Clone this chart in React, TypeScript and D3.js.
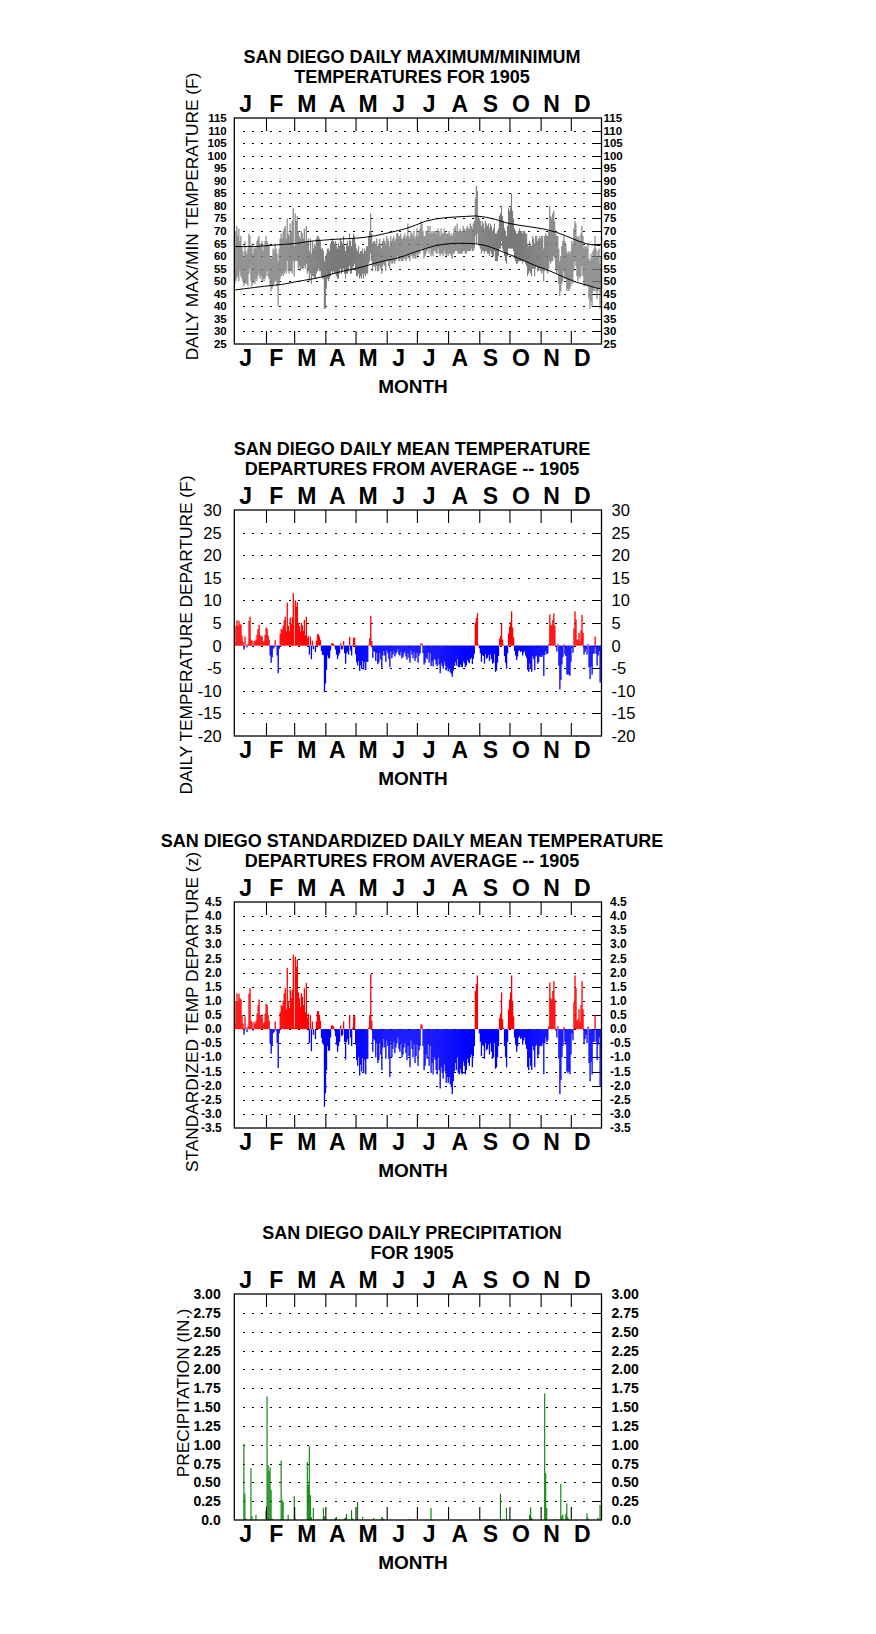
import React from 'react';
import * as d3 from 'd3';

// ---------- DATA ----------
const MONTH_LETTERS = ['J', 'F', 'M', 'A', 'M', 'J', 'J', 'A', 'S', 'O', 'N', 'D'];
const MONTH_START_DOY = [1, 32, 60, 91, 121, 152, 182, 213, 244, 274, 305, 335];

const TEMP_TICKS = [115, 110, 105, 100, 95, 90, 85, 80, 75, 70, 65, 60, 55, 50, 45, 40, 35, 30, 25];
const TEMP_LABELS = ['115', '110', '105', '100', '95', '90', '85', '80', '75', '70', '65', '60', '55', '50', '45', '40', '35', '30', '25'];
const DEP_TICKS = [30, 25, 20, 15, 10, 5, 0, -5, -10, -15, -20];
const DEP_LABELS = ['30', '25', '20', '15', '10', '5', '0', '-5', '-10', '-15', '-20'];
const Z_TICKS = [4.5, 4.0, 3.5, 3.0, 2.5, 2.0, 1.5, 1.0, 0.5, 0.0, -0.5, -1.0, -1.5, -2.0, -2.5, -3.0, -3.5];
const Z_LABELS = ['4.5', '4.0', '3.5', '3.0', '2.5', '2.0', '1.5', '1.0', '0.5', '0.0', '-0.5', '-1.0', '-1.5', '-2.0', '-2.5', '-3.0', '-3.5'];
const PRECIP_TICKS = [3.0, 2.75, 2.5, 2.25, 2.0, 1.75, 1.5, 1.25, 1.0, 0.75, 0.5, 0.25, 0.0];
const PRECIP_LABELS = ['3.00', '2.75', '2.50', '2.25', '2.00', '1.75', '1.50', '1.25', '1.00', '0.75', '0.50', '0.25', '0.0'];

// normal max / min curves (day index, value)
const NORMAL_DAY = [0, 10, 20, 30, 40, 50, 60, 70, 80, 90, 100, 110, 120, 130, 140, 150, 160, 170, 180, 190, 200, 210, 220, 230, 240, 250, 260, 270, 280, 290, 300, 310, 320, 330, 340, 350, 360, 364];
const NORMAL_MAX = [63.8, 63.8, 63.8, 64.1, 64.4, 64.7, 65.0, 65.6, 66.1, 66.4, 66.7, 66.9, 67.1, 67.5, 68.1, 69.0, 69.9, 70.9, 72.3, 73.9, 74.8, 75.3, 75.6, 75.8, 76.0, 75.5, 74.6, 73.3, 72.5, 71.9, 71.3, 70.6, 69.5, 68.0, 66.3, 64.9, 64.3, 64.2];
const NORMAL_MIN = [46.5, 47.0, 47.5, 48.0, 48.4, 48.9, 49.7, 50.4, 51.1, 52.0, 53.2, 54.2, 55.0, 56.0, 57.2, 58.2, 59.0, 60.2, 61.7, 63.0, 64.2, 64.8, 65.1, 65.1, 64.9, 64.2, 62.8, 61.2, 59.6, 57.8, 56.1, 54.7, 53.0, 51.2, 49.6, 48.5, 47.3, 47.0];

// daily max temperatures 1905
const TMAX = [
  63, 70, 72, 68, 71, 66, 68, 64, 62, 60, 66, 62, 61, 63, 69, 68, 63, 65, 61, 63, 64, 63, 66, 67, 68, 65, 64, 66, 62, 64, 66,
  68, 66, 65, 64, 60, 59, 60, 63, 62, 65, 63, 61, 58, 63, 67, 69, 67, 70, 71, 72, 67, 75, 69, 68, 73, 70, 74, 79,
  64, 77, 74, 76, 70, 68, 67, 70, 69, 67, 71, 66, 72, 66, 67, 62, 67, 61, 66, 63, 65, 64, 67, 68, 68, 67, 66, 63, 63, 62, 58,
  60, 61, 63, 63, 62, 65, 66, 67, 66, 65, 66, 64, 63, 65, 64, 67, 66, 65, 68, 64, 62, 65, 66, 64, 69, 66, 64, 67, 69, 68,
  65, 63, 62, 64, 61, 62, 62, 63, 61, 63, 62, 64, 64, 68, 70, 77, 69, 65, 66, 66, 65, 67, 64, 65, 67, 65, 63, 66, 67, 66, 65,
  68, 67, 66, 64, 68, 66, 67, 68, 66, 67, 69, 69, 68, 68, 69, 67, 67, 68, 69, 67, 68, 73, 68, 67, 70, 69, 68, 70, 67, 68,
  71, 68, 70, 71, 74, 73, 70, 68, 68, 70, 70, 72, 69, 72, 69, 70, 69, 70, 70, 69, 70, 71, 70, 68, 71, 69, 69, 71, 70, 69, 69,
  69, 70, 68, 69, 68, 69, 71, 72, 70, 73, 70, 70, 71, 70, 70, 72, 71, 70, 71, 72, 71, 71, 73, 72, 71, 73, 74, 83, 88, 86, 76,
  75, 74, 72, 74, 73, 71, 74, 73, 72, 73, 71, 73, 72, 70, 71, 73, 69, 69, 70, 71, 76, 77, 80, 76, 74, 71, 70, 68, 72, 79,
  78, 80, 85, 78, 75, 71, 70, 69, 69, 70, 71, 70, 70, 69, 70, 70, 69, 69, 65, 64, 66, 65, 64, 68, 67, 65, 68, 68, 66, 67, 68,
  67, 68, 68, 63, 68, 69, 68, 68, 70, 80, 76, 75, 77, 78, 74, 69, 68, 68, 63, 58, 60, 64, 66, 68, 66, 65, 62, 61, 62, 61,
  62, 66, 65, 71, 74, 73, 68, 67, 68, 66, 69, 72, 68, 63, 64, 64, 63, 65, 59, 58, 61, 59, 62, 63, 68, 63, 60, 62, 63, 57, 60,
];
// daily min temperatures 1905
const TMIN = [
  49, 50, 51, 52, 50, 54, 52, 51, 50, 48, 49, 49, 49, 48, 53, 55, 50, 48, 49, 50, 49, 51, 50, 52, 53, 51, 52, 50, 51, 50, 51,
  52, 54, 52, 51, 48, 46, 47, 48, 49, 50, 50, 48, 40, 49, 51, 52, 53, 52, 53, 54, 53, 58, 54, 53, 54, 54, 53, 58,
  52, 58, 58, 58, 55, 56, 54, 55, 55, 55, 56, 55, 57, 53, 54, 50, 53, 49, 52, 52, 51, 51, 53, 54, 55, 54, 54, 52, 51, 51, 39,
  39, 47, 51, 50, 51, 52, 54, 53, 54, 53, 53, 52, 51, 51, 53, 55, 53, 54, 55, 53, 51, 53, 53, 54, 56, 53, 53, 55, 56, 57,
  54, 52, 52, 53, 51, 52, 51, 53, 51, 53, 52, 53, 53, 57, 58, 61, 58, 54, 56, 56, 54, 56, 54, 54, 56, 55, 53, 56, 57, 56, 54,
  58, 58, 56, 55, 58, 57, 57, 58, 57, 58, 59, 60, 58, 58, 59, 58, 58, 59, 59, 58, 59, 60, 59, 58, 61, 60, 59, 60, 59, 59,
  61, 60, 61, 61, 63, 63, 62, 59, 60, 61, 62, 63, 61, 63, 60, 61, 60, 62, 62, 61, 61, 63, 61, 60, 61, 61, 60, 62, 61, 60, 61,
  60, 61, 61, 60, 59, 61, 61, 62, 62, 62, 61, 61, 61, 61, 61, 62, 62, 61, 61, 62, 62, 62, 62, 63, 62, 62, 63, 68, 65, 69, 65,
  64, 63, 61, 62, 62, 61, 62, 62, 61, 61, 60, 62, 61, 60, 60, 62, 58, 58, 58, 60, 63, 63, 66, 63, 62, 60, 58, 57, 60, 63,
  63, 63, 63, 63, 62, 59, 58, 57, 57, 58, 58, 58, 58, 57, 58, 58, 57, 56, 52, 53, 54, 53, 52, 55, 55, 52, 55, 56, 54, 54, 55,
  54, 53, 54, 50, 54, 55, 54, 53, 55, 58, 57, 58, 58, 60, 59, 55, 53, 54, 49, 44, 46, 49, 50, 54, 51, 51, 46, 47, 46, 47,
  48, 50, 49, 54, 58, 56, 52, 50, 52, 51, 52, 56, 52, 48, 48, 49, 48, 48, 43, 39, 42, 40, 46, 46, 48, 46, 43, 46, 47, 39, 44,
];

// daily mean temperature departures (F)
const DEP = [
  0.9, 4.4, 5.6, 4.4, 5.5, 4.8, 4.6, 2.2, 0.9, -0.9, 2.0, 0.2, -0.4, 0.4, 5.5, 6.4, 1.3, 1.1, -0.2, 1.1, 0.9, 1.3, 2.4, 3.7, 4.6, 2.2, 2.2, 2.0, 0.9, 1.1, 2.4,
  4.0, 3.7, 2.2, 1.3, -2.2, -3.8, -2.6, -0.7, -0.4, 1.2, -0.2, -2.2, -6.1, -0.7, 2.6, 3.7, 3.5, 4.4, 5.6, 6.4, 3.1, 9.5, 4.4, 3.3, 6.2, 4.8, 6.2, 11.6,
  0.2, 10.0, 8.6, 9.6, 5.1, 4.3, 3.1, 5.0, 4.5, 3.3, 5.7, 2.3, 6.4, 1.6, 2.1, -2.0, 2.0, -3.0, 1.1, -0.8, 0.0, -1.4, 1.1, 2.5, 2.5, 2.0, 1.2, -1.2, -2.0, -2.1, -10.3,
  -8.4, -5.4, -2.2, -2.8, -2.8, -1.1, 0.5, 0.5, 0.4, -0.2, -0.9, -2.0, -3.0, -2.2, -1.7, 0.5, -0.9, -0.7, 1.0, -1.7, -4.0, -1.7, -1.3, -2.0, 1.9, -1.1, -2.2, 0.2, 1.7, 1.8,
  -1.9, -3.7, -4.4, -3.4, -5.6, -4.3, -5.1, -3.4, -5.3, -3.7, -5.4, -3.6, -3.6, 0.2, 1.7, 6.6, 1.0, -2.7, -1.2, -1.4, -3.4, -1.7, -4.1, -3.7, -1.7, -3.1, -4.9, -2.2, -1.2, -2.2, -3.6,
  -1.1, -1.7, -2.9, -4.8, -1.3, -2.8, -2.0, -1.3, -2.4, -1.8, -1.4, -0.8, -2.0, -2.2, -1.4, -2.8, -2.5, -1.8, -1.4, -2.4, -3.1, -1.7, -2.7, -3.8, -1.1, -2.0, -2.8, -1.5, -3.4, -2.7,
  -1.6, -3.8, -2.2, -1.7, 0.5, 0.4, -1.7, -4.2, -3.8, -2.6, -3.0, -1.5, -3.8, -1.7, -4.5, -3.5, -4.6, -2.9, -3.2, -4.2, -4.6, -2.9, -4.2, -6.1, -3.9, -4.5, -5.1, -3.6, -4.4, -5.5, -4.9,
  -5.7, -5.1, -5.9, -6.2, -6.9, -5.6, -4.5, -3.6, -4.4, -3.0, -4.7, -4.8, -4.2, -4.7, -4.8, -3.5, -3.9, -4.8, -4.4, -3.2, -3.6, -3.9, -3.0, -2.7, -4.1, -2.9, -1.8, 5.1, 6.1, 7.2, 0.2,
  -0.6, -1.7, -3.6, -2.1, -2.3, -4.0, -1.9, -2.9, -2.7, -2.1, -3.4, -1.9, -3.0, -4.0, -3.8, -1.9, -5.8, -5.5, -3.8, -2.3, 1.5, 2.1, 4.9, 1.3, 0.2, -2.3, -3.8, -5.1, -1.7, 2.7,
  4.2, 5.2, 7.6, 4.0, 1.8, -1.2, -2.2, -3.2, -2.4, -1.2, -1.0, -1.4, -1.2, -2.2, -1.6, -1.2, -2.2, -2.8, -5.4, -5.8, -4.0, -5.2, -5.8, -2.4, -3.0, -5.4, -2.4, -2.2, -4.0, -3.6, -2.4,
  -2.5, -2.5, -2.1, -6.7, -2.1, -1.3, -1.9, -1.7, 0.4, 6.9, 4.6, 4.4, 5.7, 7.1, 4.4, -0.2, -1.3, 0.4, -4.4, -9.7, -7.6, -4.2, -2.5, 0.3, -1.9, -2.3, -6.3, -6.5, -6.3, -6.7,
  -3.6, -0.6, -1.6, 3.8, 7.6, 5.8, 1.2, 1.4, 2.8, 1.0, 3.4, 6.8, 2.8, -2.0, -1.4, -0.8, -2.0, 0.4, -4.8, -7.4, -4.6, -6.4, -1.8, -1.8, 2.0, -1.8, -4.4, -2.2, -1.2, -8.2, -4.0,
];

// standardized departures (z)
const ZDEP = [
  0.2, 1.0, 1.27, 1.0, 1.25, 1.1, 1.05, 0.5, 0.2, -0.2, 0.45, 0.05, -0.1, 0.1, 1.25, 1.45, 0.3, 0.25, -0.05, 0.25, 0.2, 0.3, 0.55, 0.85, 1.05, 0.5, 0.5, 0.45, 0.2, 0.25, 0.55,
  0.9, 0.85, 0.5, 0.3, -0.5, -0.87, -0.6, -0.15, -0.1, 0.27, -0.05, -0.5, -1.38, -0.15, 0.6, 0.85, 0.8, 1.0, 1.27, 1.45, 0.7, 2.17, 1.0, 0.75, 1.4, 1.1, 1.4, 2.64,
  0.05, 2.56, 2.2, 2.46, 1.3, 1.1, 0.8, 1.27, 1.15, 0.85, 1.45, 0.6, 1.63, 0.4, 0.55, -0.5, 0.5, -0.78, 0.27, -0.2, 0.0, -0.35, 0.27, 0.64, 0.64, 0.5, 0.3, -0.3, -0.5, -0.55, -2.75,
  -2.27, -1.46, -0.6, -0.77, -0.75, -0.3, 0.13, 0.13, 0.1, -0.05, -0.25, -0.55, -0.8, -0.6, -0.45, 0.13, -0.25, -0.2, 0.27, -0.45, -1.08, -0.45, -0.35, -0.55, 0.5, -0.3, -0.6, 0.05, 0.45, 0.48,
  -0.55, -1.1, -1.3, -1.0, -1.65, -1.25, -1.5, -1.0, -1.55, -1.1, -1.6, -1.05, -1.05, 0.05, 0.5, 1.95, 0.3, -0.8, -0.35, -0.4, -1.0, -0.5, -1.2, -1.1, -0.5, -0.9, -1.45, -0.65, -0.35, -0.65, -1.05,
  -0.4, -0.6, -1.05, -1.7, -0.45, -1.0, -0.7, -0.45, -0.85, -0.65, -0.5, -0.3, -0.7, -0.8, -0.5, -1.0, -0.9, -0.65, -0.5, -0.85, -1.1, -0.6, -0.95, -1.35, -0.4, -0.7, -1.0, -0.55, -1.2, -0.95,
  -0.55, -1.3, -0.75, -0.6, 0.18, 0.13, -0.6, -1.45, -1.3, -0.9, -1.05, -0.5, -1.3, -0.6, -1.55, -1.2, -1.6, -1.0, -1.1, -1.45, -1.6, -1.0, -1.45, -2.1, -1.35, -1.55, -1.75, -1.25, -1.5, -1.9, -1.7,
  -1.9, -1.7, -1.95, -2.05, -2.3, -1.85, -1.5, -1.2, -1.45, -1.0, -1.55, -1.6, -1.4, -1.55, -1.6, -1.15, -1.3, -1.6, -1.45, -1.05, -1.2, -1.3, -1.0, -0.9, -1.35, -0.95, -0.6, 1.35, 1.6, 1.9, 0.0,
  -0.15, -0.45, -0.95, -0.55, -0.6, -1.05, -0.5, -0.75, -0.7, -0.55, -0.9, -0.5, -0.8, -1.05, -1.0, -0.5, -1.4, -1.35, -1.0, -0.6, 0.4, 0.55, 1.3, 0.35, 0.05, -0.6, -1.0, -1.35, -0.45, 0.7,
  1.05, 1.3, 1.9, 1.0, 0.45, -0.3, -0.55, -0.8, -0.6, -0.3, -0.25, -0.35, -0.3, -0.55, -0.4, -0.3, -0.55, -0.7, -1.35, -1.45, -1.0, -1.3, -1.45, -0.6, -0.75, -1.35, -0.6, -0.55, -1.0, -0.9, -0.6,
  -0.6, -0.6, -0.5, -1.6, -0.5, -0.3, -0.45, -0.4, 0.1, 1.65, 1.1, 1.05, 1.35, 1.7, 1.05, -0.05, -0.3, 0.1, -1.05, -2.3, -1.8, -1.0, -0.6, 0.07, -0.45, -0.55, -1.5, -1.55, -1.5, -1.6,
  -0.9, -0.15, -0.4, 0.95, 1.9, 1.45, 0.3, 0.35, 0.7, 0.25, 0.85, 1.7, 0.7, -0.5, -0.35, -0.2, -0.5, 0.1, -1.2, -1.85, -1.15, -1.6, -0.45, -0.45, 0.5, -0.45, -1.1, -0.55, -0.3, -2.05, -1.0,
];

// daily precipitation (inches) — day index and amount
const PRECIP_DAY = [9, 10, 11, 16, 17, 21, 31, 32, 33, 34, 35, 36, 37, 46, 47, 48, 53, 59, 60, 72, 73, 74, 75, 76, 78, 88, 89, 99, 100, 101, 109, 110, 111, 116, 117, 122, 127, 138, 146, 147, 151, 173, 195, 264, 270, 293, 294, 295, 308, 309, 310, 320, 324, 325, 326, 329, 330, 331, 350, 351, 361, 363];
const PRECIP_VAL = [1.01, 0.35, 0.02, 0.69, 0.05, 0.07, 0.13, 1.64, 0.73, 0.65, 0.70, 0.40, 0.02, 0.79, 0.27, 0.24, 0.07, 0.32, 0.02, 0.77, 0.47, 0.98, 0.33, 0.04, 0.16, 0.16, 0.05, 0.01, 0.03, 0.04, 0.02, 0.03, 0.08, 0.13, 0.02, 0.24, 0.04, 0.03, 0.04, 0.03, 0.01, 0.01, 0.16, 0.35, 0.16, 0.07, 0.17, 0.03, 1.68, 0.62, 0.16, 0.01, 0.48, 0.05, 0.07, 0.08, 0.22, 0.04, 0.09, 0.03, 0.03, 0.20];

// ---------- LAYOUT ----------
const FONT = "'Liberation Sans', Arial, Helvetica, sans-serif";
const LEFT = 234.3;
const RIGHT = 601.5;
const PH = 226;
const xs = d3.scaleLinear().domain([0, 365]).range([LEFT, RIGHT]);

type PanelProps = {
  top: number;
  domain: [number, number];
  ticks: number[];
  labels: string[];
  tickSize: number;
  tickWeight: string;
  leftEdge: number;
  rightX: number;
  title: string[];
  yTitle: string;
  yTitleX: number;
  yTitleY: number;
  render: (ys: d3.ScaleLinear<number, number>) => React.ReactNode;
};

function Panel(p: PanelProps) {
  const ys = d3.scaleLinear().domain(p.domain).range([p.top + PH, p.top]);
  const bottom = p.top + PH;
  const inner = p.ticks.filter((t) => t !== p.domain[0] && t !== p.domain[1]);
  const step = (RIGHT - LEFT) / 12;
  return (
    <g>
      {p.title.map((t, i) => (
        <text key={'t' + i} x={412} y={p.top - 55.3 + i * 20.3} textAnchor="middle" fontFamily={FONT} fontWeight="bold" fontSize={18}>
          {t}
        </text>
      ))}
      {inner.map((t) => {
        const y = Math.round(ys(t)) + 0.5;
        return (
          <g key={'g' + t}>
            <line x1={242.7} x2={592} y1={y} y2={y} stroke="#000" strokeWidth={1} strokeDasharray="2 7.19" shapeRendering="crispEdges" />
            <line x1={RIGHT - 10} x2={RIGHT} y1={y} y2={y} stroke="#000" strokeWidth={1} shapeRendering="crispEdges" />
          </g>
        );
      })}
      {p.render(ys)}
      <rect x={LEFT} y={p.top} width={RIGHT - LEFT} height={PH} fill="none" stroke="#000" strokeWidth={1.3} />
      {MONTH_START_DOY.slice(1).map((d) => (
        <g key={'m' + d}>
          <line x1={xs(d)} x2={xs(d)} y1={p.top} y2={p.top + 13} stroke="#000" strokeWidth={1.1} />
          <line x1={xs(d)} x2={xs(d)} y1={bottom} y2={bottom - 13} stroke="#000" strokeWidth={1.1} />
        </g>
      ))}
      {MONTH_LETTERS.map((m, i) => (
        <g key={'l' + i}>
          <text x={LEFT + (i + 0.37) * step} y={p.top - 6} textAnchor="middle" fontFamily={FONT} fontWeight="bold" fontSize={23}>{m}</text>
          <text x={LEFT + (i + 0.37) * step} y={bottom + 22} textAnchor="middle" fontFamily={FONT} fontWeight="bold" fontSize={23}>{m}</text>
        </g>
      ))}
      <text x={413} y={bottom + 48.8} textAnchor="middle" fontFamily={FONT} fontWeight="bold" fontSize={19}>MONTH</text>
      {p.ticks.map((t, i) => (
        <g key={'k' + i}>
          <text x={p.leftEdge} y={ys(t)} textAnchor="end" dominantBaseline="central" fontFamily={FONT} fontWeight={p.tickWeight} fontSize={p.tickSize}>{p.labels[i]}</text>
          <text x={p.rightX} y={ys(t)} textAnchor="start" dominantBaseline="central" fontFamily={FONT} fontWeight={p.tickWeight} fontSize={p.tickSize}>{p.labels[i]}</text>
        </g>
      ))}
      <text transform={`translate(${p.yTitleX + 6},${p.yTitleY}) rotate(-90)`} textAnchor="middle" fontFamily={FONT} fontSize={17.3}>
        {p.yTitle}
      </text>
    </g>
  );
}

function barsRender(values: number[]) {
  return (ys: d3.ScaleLinear<number, number>) => {
    const y0 = ys(0);
    return (
      <g>
        {values.map((v, i) => {
          if (v === 0) return null;
          const y = ys(v);
          return (
            <rect key={i} x={xs(i)} width={xs(i + 1) - xs(i) + 0.3} y={Math.min(y, y0)} height={Math.abs(y - y0)} fill={v > 0 ? '#ff0000' : '#0000ff'} />
          );
        })}
      </g>
    );
  };
}

export default function App() {
  const renderTemps = (ys: d3.ScaleLinear<number, number>) => {
    const line = d3.line<number>().x((_, i) => xs(NORMAL_DAY[i])).y((v) => ys(v));
    return (
      <g>
        {TMAX.map((mx, i) => (
          <rect key={i} x={xs(i)} width={1.1} y={ys(mx)} height={ys(TMIN[i]) - ys(mx)} fill="#7a7a7a" />
        ))}
        <path d={line(NORMAL_MAX) || ''} fill="none" stroke="#000" strokeWidth={1} />
        <path d={line(NORMAL_MIN) || ''} fill="none" stroke="#000" strokeWidth={1} />
      </g>
    );
  };
  const renderPrecip = (ys: d3.ScaleLinear<number, number>) => (
    <g>
      {PRECIP_DAY.map((d, i) => (
        <rect key={i} x={xs(d)} width={1.1} y={ys(PRECIP_VAL[i])} height={ys(0) - ys(PRECIP_VAL[i])} fill="#008000" />
      ))}
    </g>
  );
  return (
    <div style={{ position: 'absolute', left: 0, top: 0 }}>
      <svg width={876} height={1634} style={{ display: 'block', background: '#fff' }}>
        <Panel top={118} domain={[25, 115]} ticks={TEMP_TICKS} labels={TEMP_LABELS} tickSize={11.5} tickWeight="bold"
          leftEdge={226.7} rightX={603.5} title={['SAN DIEGO DAILY MAXIMUM/MINIMUM', 'TEMPERATURES FOR 1905']}
          yTitle="DAILY MAX/MIN TEMPERATURE (F)" yTitleX={192} yTitleY={216.5} render={renderTemps} />
        <Panel top={510} domain={[-20, 30]} ticks={DEP_TICKS} labels={DEP_LABELS} tickSize={16.5} tickWeight="normal"
          leftEdge={221.7} rightX={611.5} title={['SAN DIEGO DAILY MEAN TEMPERATURE', 'DEPARTURES FROM AVERAGE -- 1905']}
          yTitle="DAILY TEMPERATURE DEPARTURE (F)" yTitleX={186} yTitleY={635} render={barsRender(DEP)} />
        <Panel top={902} domain={[-3.5, 4.5]} ticks={Z_TICKS} labels={Z_LABELS} tickSize={12} tickWeight="bold"
          leftEdge={221.7} rightX={610} title={['SAN DIEGO STANDARDIZED DAILY MEAN TEMPERATURE', 'DEPARTURES FROM AVERAGE -- 1905']}
          yTitle="STANDARDIZED TEMP DEPARTURE (z)" yTitleX={191.7} yTitleY={1012} render={barsRender(ZDEP)} />
        <Panel top={1294} domain={[0, 3]} ticks={PRECIP_TICKS} labels={PRECIP_LABELS} tickSize={14} tickWeight="bold"
          leftEdge={220.7} rightX={611.5} title={['SAN DIEGO DAILY PRECIPITATION', 'FOR 1905']}
          yTitle="PRECIPITATION (IN.)" yTitleX={183} yTitleY={1393} render={renderPrecip} />
      </svg>
    </div>
  );
}
